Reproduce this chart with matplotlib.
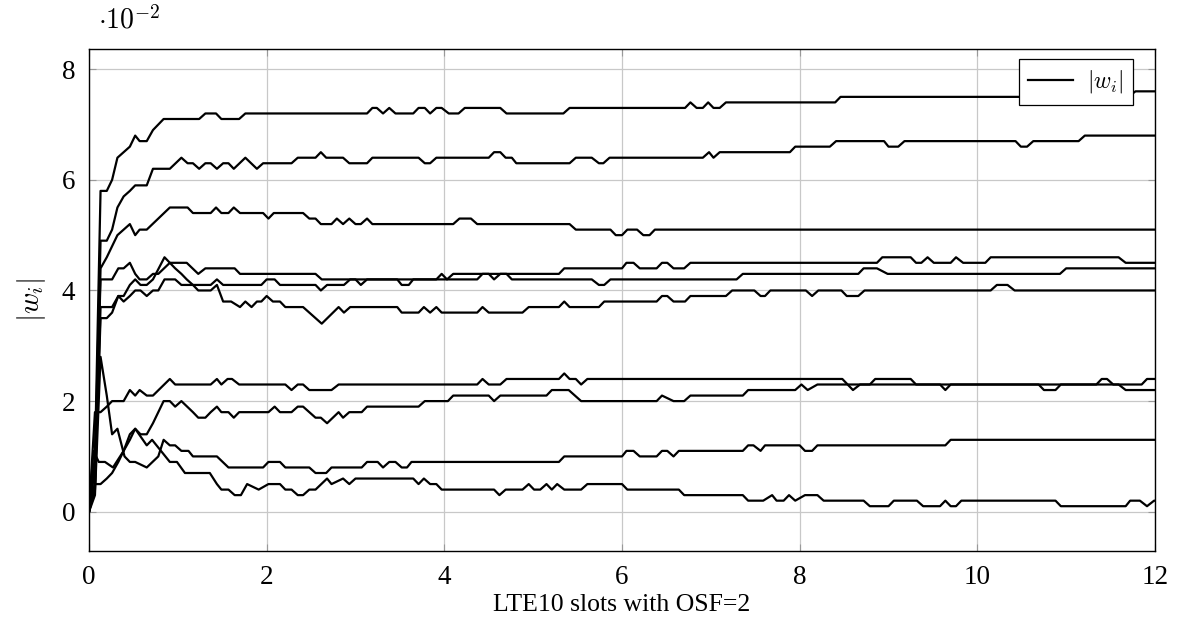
import matplotlib
matplotlib.use('Agg')
import matplotlib.pyplot as plt

# weight magnitudes |w_i| (units of 1e-2) against LTE10 slots

xa = [0, 0.067, 0.13, 0.2, 0.26, 0.32, 0.39, 0.46, 0.52, 0.57, 0.65, 0.72, 0.78, 0.84, 1.24, 1.31, 1.43, 1.49, 1.69, 1.76,
      3.13, 3.19, 3.24, 3.31, 3.38, 3.45, 3.65, 3.71, 3.78, 3.84, 3.91, 3.97, 4.05, 4.16, 4.23, 4.63, 4.70, 5.34, 5.41,
      6.71, 6.77, 6.84, 6.91, 6.97, 7.03, 7.10, 7.17, 8.40, 8.46, 11.70, 11.78, 12]
ya = [0, 1.0, 5.8, 5.8, 6.0, 6.4, 6.5, 6.6, 6.8, 6.7, 6.7, 6.9, 7.0, 7.1, 7.1, 7.2, 7.2, 7.1, 7.1, 7.2,
      7.2, 7.3, 7.3, 7.2, 7.3, 7.2, 7.2, 7.3, 7.3, 7.2, 7.3, 7.3, 7.2, 7.2, 7.3, 7.3, 7.2, 7.2, 7.3,
      7.3, 7.4, 7.3, 7.3, 7.4, 7.3, 7.3, 7.4, 7.4, 7.5, 7.5, 7.6, 7.6]

xb = [0, 0.067, 0.13, 0.2, 0.26, 0.32, 0.39, 0.46, 0.52, 0.65, 0.72, 0.91, 1.04, 1.11, 1.17, 1.24, 1.31, 1.37, 1.44,
      1.51, 1.57, 1.63, 1.76, 1.89, 1.96, 2.28, 2.35, 2.55, 2.61, 2.67, 2.86, 2.93, 3.13, 3.19, 3.71, 3.78, 3.84,
      3.91, 4.50, 4.56, 4.63, 4.69, 4.76, 4.81, 5.41, 5.48, 5.66, 5.74, 5.79, 5.86, 6.91, 6.98, 7.03, 7.10, 7.89,
      7.95, 8.34, 8.41, 8.95, 9.00, 9.11, 9.18, 10.43, 10.49, 10.56, 10.63, 11.14, 11.21, 12]
yb = [0, 0.8, 4.9, 4.9, 5.1, 5.5, 5.7, 5.8, 5.9, 5.9, 6.2, 6.2, 6.4, 6.3, 6.3, 6.2, 6.3, 6.3, 6.2,
      6.3, 6.3, 6.2, 6.4, 6.2, 6.3, 6.3, 6.4, 6.4, 6.5, 6.4, 6.4, 6.3, 6.3, 6.4, 6.4, 6.3, 6.3,
      6.4, 6.4, 6.5, 6.5, 6.4, 6.4, 6.3, 6.3, 6.4, 6.4, 6.3, 6.3, 6.4, 6.4, 6.5, 6.4, 6.5, 6.5,
      6.6, 6.6, 6.7, 6.7, 6.6, 6.6, 6.7, 6.7, 6.6, 6.6, 6.7, 6.7, 6.8, 6.8]

xc = [0, 0.067, 0.13, 0.2, 0.26, 0.32, 0.39, 0.46, 0.52, 0.57, 0.65, 0.91, 1.11, 1.17, 1.37, 1.43, 1.49, 1.57, 1.63,
      1.70, 1.96, 2.02, 2.08, 2.41, 2.48, 2.55, 2.61, 2.73, 2.79, 2.86, 2.93, 3.00, 3.06, 3.13, 3.19, 4.10, 4.17,
      4.30, 4.37, 5.41, 5.48, 5.87, 5.93, 6.00, 6.06, 6.17, 6.24, 6.31, 6.37, 12]
yc = [0, 0.5, 4.4, 4.6, 4.8, 5.0, 5.1, 5.2, 5.0, 5.1, 5.1, 5.5, 5.5, 5.4, 5.4, 5.5, 5.4, 5.4, 5.5,
      5.4, 5.4, 5.3, 5.4, 5.4, 5.3, 5.3, 5.2, 5.2, 5.3, 5.2, 5.3, 5.2, 5.2, 5.3, 5.2, 5.2, 5.3,
      5.3, 5.2, 5.2, 5.1, 5.1, 5.0, 5.0, 5.1, 5.1, 5.0, 5.0, 5.1, 5.1]

xd = [0, 0.067, 0.13, 0.2, 0.26, 0.33, 0.39, 0.46, 0.52, 0.58, 0.65, 0.72, 0.78, 0.85, 0.97, 1.04, 1.37, 1.44, 1.51,
      1.94, 2.00, 2.09, 2.15, 2.55, 2.61, 2.68, 2.87, 2.94, 3.00, 3.06, 3.13, 3.47, 3.52, 3.60, 3.65, 3.91, 3.97,
      4.03, 4.10, 5.29, 5.35, 6.00, 6.05, 6.13, 6.20, 6.39, 6.45, 6.51, 6.58, 6.70, 6.77, 8.87, 8.93, 9.25, 9.31,
      9.37, 9.44, 9.51, 9.70, 9.76, 9.84, 10.09, 10.15, 11.59, 11.67, 12]
yd = [0, 0.5, 3.5, 3.5, 3.6, 3.9, 3.8, 3.9, 4.0, 4.0, 3.9, 4.0, 4.0, 4.2, 4.2, 4.1, 4.1, 4.2, 4.1,
      4.1, 4.2, 4.2, 4.1, 4.1, 4.0, 4.1, 4.1, 4.2, 4.2, 4.1, 4.2, 4.2, 4.1, 4.1, 4.2, 4.2, 4.3,
      4.2, 4.3, 4.3, 4.4, 4.4, 4.5, 4.5, 4.4, 4.4, 4.5, 4.5, 4.4, 4.4, 4.5, 4.5, 4.6, 4.6, 4.5,
      4.5, 4.6, 4.5, 4.5, 4.6, 4.5, 4.5, 4.6, 4.6, 4.5, 4.5]

xe = [0, 0.067, 0.13, 0.26, 0.33, 0.39, 0.46, 0.52, 0.57, 0.65, 0.72, 0.78, 0.91, 1.10, 1.23, 1.31, 1.64, 1.70, 2.55,
      2.62, 4.37, 4.43, 4.50, 4.56, 4.63, 4.70, 4.76, 5.66, 5.74, 5.80, 5.87, 7.29, 7.36, 8.66, 8.72, 8.87, 8.99,
      10.93, 11.00, 12]
ye = [0, 0.9, 4.2, 4.2, 4.4, 4.4, 4.5, 4.3, 4.2, 4.2, 4.3, 4.3, 4.5, 4.5, 4.3, 4.4, 4.4, 4.3, 4.3,
      4.2, 4.2, 4.3, 4.3, 4.2, 4.3, 4.3, 4.2, 4.2, 4.1, 4.1, 4.2, 4.2, 4.3, 4.3, 4.4, 4.4, 4.3,
      4.3, 4.4, 4.4]

xf = [0, 0.067, 0.13, 0.26, 0.33, 0.39, 0.46, 0.52, 0.58, 0.65, 0.72, 0.85, 0.91, 0.97, 1.04, 1.10, 1.17, 1.23, 1.37,
      1.44, 1.51, 1.60, 1.70, 1.76, 1.83, 1.89, 1.94, 2.00, 2.07, 2.15, 2.21, 2.41, 2.62, 2.81, 2.87, 2.94, 3.47,
      3.52, 3.71, 3.77, 3.84, 3.91, 3.97, 4.37, 4.43, 4.50, 4.88, 4.95, 5.29, 5.35, 5.41, 5.74, 5.80, 6.39, 6.45,
      6.51, 6.58, 6.71, 6.77, 7.17, 7.24, 7.49, 7.56, 7.61, 7.67, 8.07, 8.14, 8.21, 8.47, 8.53, 8.66, 8.73, 10.15,
      10.22, 10.34, 10.42, 12]
yf = [0, 0.4, 3.7, 3.7, 3.9, 3.9, 4.1, 4.2, 4.1, 4.1, 4.2, 4.6, 4.5, 4.4, 4.3, 4.2, 4.1, 4.0, 4.0,
      4.1, 3.8, 3.8, 3.7, 3.8, 3.7, 3.8, 3.8, 3.9, 3.8, 3.8, 3.7, 3.7, 3.4, 3.7, 3.6, 3.7, 3.7,
      3.6, 3.6, 3.7, 3.6, 3.7, 3.6, 3.6, 3.7, 3.6, 3.6, 3.7, 3.7, 3.8, 3.7, 3.7, 3.8, 3.8, 3.9,
      3.9, 3.8, 3.8, 3.9, 3.9, 4.0, 4.0, 3.9, 3.9, 4.0, 4.0, 3.9, 4.0, 4.0, 3.9, 3.9, 4.0, 4.0,
      4.1, 4.1, 4.0, 4.0]

xg = [0, 0.067, 0.13, 0.20, 0.26, 0.39, 0.46, 0.52, 0.57, 0.65, 0.72, 0.91, 0.97, 1.37, 1.44, 1.49, 1.56, 1.61, 1.69,
      2.21, 2.28, 2.35, 2.41, 2.48, 2.73, 2.81, 4.37, 4.43, 4.50, 4.63, 4.70, 5.29, 5.35, 5.41, 5.48, 5.54, 5.61,
      8.48, 8.60, 8.68, 8.79, 8.85, 9.25, 9.31, 11.59, 11.67, 12]
yg = [0, 1.8, 1.8, 1.9, 2.0, 2.0, 2.2, 2.1, 2.2, 2.1, 2.1, 2.4, 2.3, 2.3, 2.4, 2.3, 2.4, 2.4, 2.3,
      2.3, 2.2, 2.3, 2.3, 2.2, 2.2, 2.3, 2.3, 2.4, 2.3, 2.3, 2.4, 2.4, 2.5, 2.4, 2.4, 2.3, 2.4,
      2.4, 2.2, 2.3, 2.3, 2.4, 2.4, 2.3, 2.3, 2.2, 2.2]

xh = [0, 0.067, 0.13, 0.20, 0.26, 0.33, 0.39, 0.46, 0.52, 0.58, 0.65, 0.72, 0.78, 0.84, 0.91, 0.97, 1.04, 1.17, 1.23,
      1.31, 1.37, 1.44, 1.49, 1.57, 1.63, 1.69, 2.02, 2.09, 2.15, 2.28, 2.35, 2.41, 2.55, 2.61, 2.68, 2.81, 2.86,
      2.93, 3.07, 3.13, 3.71, 3.78, 4.04, 4.10, 4.50, 4.56, 4.63, 5.15, 5.21, 5.40, 5.54, 6.39, 6.45, 6.58, 6.70,
      6.77, 7.36, 7.42, 7.95, 8.02, 8.09, 8.20, 9.58, 9.64, 9.70, 10.69, 10.75, 10.88, 10.94, 11.34, 11.40, 11.46,
      11.53, 11.85, 11.91, 12]
yh = [0, 0.5, 0.5, 0.6, 0.7, 0.9, 1.1, 1.3, 1.5, 1.4, 1.4, 1.6, 1.8, 2.0, 2.0, 1.9, 2.0, 1.8, 1.7,
      1.7, 1.8, 1.9, 1.8, 1.8, 1.7, 1.8, 1.8, 1.9, 1.8, 1.8, 1.9, 1.9, 1.7, 1.7, 1.6, 1.8, 1.7,
      1.8, 1.8, 1.9, 1.9, 2.0, 2.0, 2.1, 2.1, 2.0, 2.1, 2.1, 2.2, 2.2, 2.0, 2.0, 2.1, 2.0, 2.0,
      2.1, 2.1, 2.2, 2.2, 2.3, 2.2, 2.3, 2.3, 2.2, 2.3, 2.3, 2.2, 2.2, 2.3, 2.3, 2.4, 2.4,
      2.3, 2.3, 2.4, 2.4]

xi = [0, 0.067, 0.13, 0.20, 0.26, 0.32, 0.40, 0.46, 0.52, 0.65, 0.78, 0.84, 0.91, 0.97, 1.04, 1.12, 1.17, 1.44, 1.57,
      1.96, 2.02, 2.15, 2.21, 2.48, 2.55, 2.67, 2.73, 3.07, 3.13, 3.25, 3.31, 3.38, 3.45, 3.52, 3.58, 3.63, 5.29,
      5.35, 6.00, 6.05, 6.13, 6.20, 6.39, 6.45, 6.51, 6.58, 6.64, 7.36, 7.42, 7.48, 7.56, 7.61, 8.00, 8.06, 8.14,
      8.20, 9.64, 9.70, 12]
yi = [0, 0.3, 2.8, 2.1, 1.4, 1.5, 1.0, 0.9, 0.9, 0.8, 1.0, 1.3, 1.2, 1.2, 1.1, 1.1, 1.0, 1.0, 0.8,
      0.8, 0.9, 0.9, 0.8, 0.8, 0.7, 0.7, 0.8, 0.8, 0.9, 0.9, 0.8, 0.9, 0.9, 0.8, 0.8, 0.9, 0.9,
      1.0, 1.0, 1.1, 1.1, 1.0, 1.0, 1.1, 1.1, 1.0, 1.1, 1.1, 1.2, 1.2, 1.1, 1.2, 1.2, 1.1, 1.1,
      1.2, 1.2, 1.3, 1.3]

xj = [0, 0.05, 0.11, 0.18, 0.27, 0.39, 0.46, 0.52, 0.65, 0.71, 0.91, 0.99, 1.08, 1.36, 1.44, 1.49, 1.57, 1.64, 1.71,
      1.78, 1.91, 2.02, 2.15, 2.21, 2.28, 2.35, 2.41, 2.48, 2.55, 2.68, 2.73, 2.86, 2.93, 3.00, 3.65, 3.71, 3.77,
      3.84, 3.91, 3.97, 4.56, 4.62, 4.69, 4.88, 4.95, 5.01, 5.08, 5.15, 5.21, 5.27, 5.35, 5.54, 5.61, 6.00, 6.06,
      6.64, 6.70, 7.36, 7.42, 7.59, 7.69, 7.74, 7.82, 7.88, 7.95, 8.06, 8.20, 8.27, 8.72, 8.79, 9.00, 9.06, 9.32,
      9.39, 9.58, 9.64, 9.70, 9.76, 9.82, 10.88, 10.94, 11.67, 11.72, 11.83, 11.91, 11.99, 12]
yj = [0, 1.1, 0.9, 0.9, 0.8, 1.1, 1.4, 1.5, 1.2, 1.3, 0.9, 0.9, 0.7, 0.7, 0.5, 0.4, 0.4, 0.3, 0.3,
      0.5, 0.4, 0.5, 0.5, 0.4, 0.4, 0.3, 0.3, 0.4, 0.4, 0.6, 0.5, 0.6, 0.5, 0.6, 0.6, 0.5, 0.6,
      0.5, 0.5, 0.4, 0.4, 0.3, 0.4, 0.4, 0.5, 0.4, 0.4, 0.5, 0.4, 0.5, 0.4, 0.4, 0.5, 0.5, 0.4,
      0.4, 0.3, 0.3, 0.2, 0.2, 0.3, 0.2, 0.2, 0.3, 0.2, 0.3, 0.3, 0.2, 0.2, 0.1, 0.1, 0.2, 0.2,
      0.1, 0.1, 0.2, 0.1, 0.1, 0.2, 0.2, 0.1, 0.1, 0.2, 0.2, 0.1, 0.2, 0.2]

series = [(xa, ya), (xb, yb), (xc, yc), (xd, yd), (xe, ye), (xf, yf), (xg, yg), (xh, yh), (xi, yi), (xj, yj)]

xticks = [0, 2, 4, 6, 8, 10, 12]
yticks = [0, 2, 4, 6, 8]

plt.rcParams['font.family'] = ['Liberation Serif', 'DejaVu Serif']
plt.rcParams['mathtext.fontset'] = 'cm'

fig = plt.figure(figsize=(11.77, 6.36), dpi=100)
ax = fig.add_axes([89 / 1177, 1 - 551 / 636, (1155 - 89) / 1177, (551 - 49.3) / 636])

for k, (xs, ys) in enumerate(series):
    ax.plot(xs, ys, color='black', lw=1.6, label=r'$|w_i|$' if k == 0 else None, zorder=3)

ax.set_xlim(0, 12)
ax.set_ylim(-0.71, 8.36)
ax.set_xticks(xticks)
ax.set_yticks(yticks)
ax.grid(True, color='#c8c8c8', lw=0.9)
ax.tick_params(direction='in', top=True, right=True, length=5, width=0.8, color='#999999',
               labelsize=19.5, pad=10)
for s in ax.spines.values():
    s.set_linewidth(1.0)
    s.set_color('black')

ax.set_xlabel('LTE10 slots with OSF=2', fontsize=18.5, labelpad=3)
ax.set_ylabel(r'$|w_i|$', fontsize=21, labelpad=10)
fig.text(98 / 1177, 1 - 20 / 636, r'$\cdot10^{-2}$', fontsize=20, va='center', ha='left')

leg = ax.legend(loc='upper right', bbox_to_anchor=(0.9794, 0.9807), borderaxespad=0,
                fontsize=17, fancybox=False, framealpha=1, edgecolor='black',
                handlelength=1.9, handletextpad=0.6, borderpad=0.4)
leg.get_frame().set_linewidth(0.9)

plt.savefig('out.png', dpi=100)
